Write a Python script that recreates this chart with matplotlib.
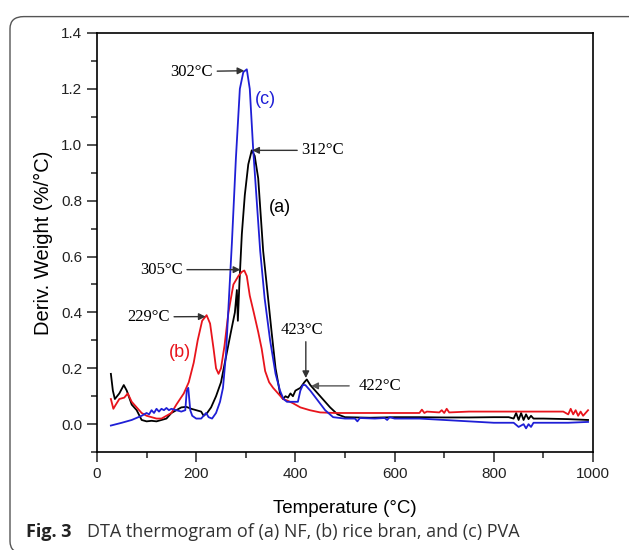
import matplotlib
matplotlib.use('Agg')
import matplotlib.pyplot as plt
from matplotlib.patches import FancyBboxPatch
from matplotlib.ticker import MultipleLocator

# (a) NF - black
t_nf = [28, 32, 36, 45, 54, 60, 70, 80, 90, 100, 110, 120, 130, 140, 150, 160, 170, 180,
        190, 200, 210, 215, 222, 230, 240, 250, 260, 270, 278, 282, 284, 287, 292, 298,
        305, 312, 318, 325, 335, 345, 352, 360, 369, 375, 380, 385, 390, 395, 400, 410,
        418, 423, 430, 440, 455, 470, 485, 500, 550, 600, 650, 700, 750, 800, 830, 840,
        845, 850, 855, 860, 865, 870, 875, 880, 900, 950, 990]
d_nf = [0.18, 0.12, 0.09, 0.11, 0.14, 0.12, 0.07, 0.05, 0.015, 0.01, 0.012, 0.01, 0.015,
        0.02, 0.04, 0.05, 0.06, 0.062, 0.055, 0.05, 0.045, 0.03, 0.04, 0.06, 0.1, 0.15,
        0.24, 0.33, 0.40, 0.48, 0.37, 0.50, 0.68, 0.82, 0.93, 0.98, 0.96, 0.88, 0.62,
        0.45, 0.33, 0.2, 0.11, 0.09, 0.1, 0.095, 0.11, 0.1, 0.12, 0.13, 0.15, 0.16, 0.14,
        0.12, 0.09, 0.06, 0.035, 0.025, 0.023, 0.025, 0.025, 0.024, 0.024, 0.025, 0.025,
        0.02, 0.04, 0.015, 0.04, 0.015, 0.035, 0.018, 0.03, 0.02, 0.02, 0.018, 0.015]

# (b) rice bran - red
t_rb = [28, 33, 38, 45, 55, 62, 70, 80, 90, 100, 110, 120, 130, 140, 150, 160, 175, 185,
        195, 203, 212, 221, 228, 235, 240, 245, 250, 257, 265, 275, 285, 292, 297, 302,
        308, 316, 325, 332, 339, 347, 355, 365, 375, 383, 395, 410, 429, 450, 480, 520,
        560, 600, 640, 650, 655, 660, 665, 690, 695, 700, 705, 710, 750, 800, 850, 900,
        940, 950, 955, 960, 965, 970, 975, 980, 985, 990]
d_rb = [0.09, 0.055, 0.07, 0.09, 0.095, 0.11, 0.08, 0.06, 0.04, 0.03, 0.025, 0.02, 0.02,
        0.03, 0.04, 0.07, 0.11, 0.15, 0.22, 0.3, 0.37, 0.39, 0.36, 0.27, 0.2, 0.18, 0.2,
        0.28, 0.4, 0.5, 0.53, 0.545, 0.55, 0.53, 0.46, 0.4, 0.33, 0.27, 0.19, 0.15, 0.13,
        0.11, 0.09, 0.085, 0.075, 0.06, 0.05, 0.042, 0.04, 0.04, 0.04, 0.04, 0.04, 0.04,
        0.052, 0.04, 0.045, 0.042, 0.05, 0.04, 0.055, 0.042, 0.045, 0.045, 0.045, 0.045,
        0.045, 0.035, 0.055, 0.035, 0.05, 0.03, 0.045, 0.03, 0.04, 0.05]

# (c) PVA - blue
t_pva = [28, 50, 70, 90, 100, 105, 110, 115, 120, 125, 130, 135, 140, 145, 150, 160, 170,
         178, 181, 184, 188, 192, 200, 210, 215, 220, 225, 232, 240, 248, 254, 260, 266,
         272, 280, 288, 295, 302, 308, 315, 322, 329, 338, 349, 360, 369, 376, 383, 395,
         405, 410, 415, 420, 430, 445, 460, 476, 500, 520, 525, 530, 560, 580, 585, 590,
         600, 650, 700, 750, 800, 840, 850, 860, 865, 870, 875, 880, 890, 950, 990]
d_pva = [-0.005, 0.005, 0.015, 0.03, 0.04, 0.035, 0.05, 0.04, 0.055, 0.045, 0.055, 0.05,
         0.058, 0.05, 0.055, 0.05, 0.045, 0.05, 0.12, 0.13, 0.05, 0.03, 0.02, 0.02, 0.03,
         0.04, 0.025, 0.02, 0.04, 0.08, 0.13, 0.25, 0.45, 0.65, 0.95, 1.2, 1.26, 1.27, 1.2,
         0.98, 0.8, 0.62, 0.45, 0.3, 0.18, 0.12, 0.09, 0.08, 0.08, 0.08, 0.12, 0.14, 0.14,
         0.12, 0.085, 0.05, 0.025, 0.02, 0.02, 0.01, 0.022, 0.02, 0.022, 0.015, 0.025, 0.02,
         0.02, 0.015, 0.01, 0.005, 0.005, -0.01, 0.0, -0.015, 0.0, -0.01, 0.005, 0.005,
         0.005, 0.008]

sans = ['Liberation Sans', 'DejaVu Sans']
serif = ['Liberation Serif', 'DejaVu Serif']

fig = plt.figure(figsize=(6.29, 5.5), dpi=100)
ax = fig.add_axes([0.1542, 0.178, 0.7886, 0.762])

ax.plot(t_nf, d_nf, color='black', lw=1.3)
ax.plot(t_rb, d_rb, color='#e8141c', lw=1.3)
ax.plot(t_pva, d_pva, color='#1f1fd6', lw=1.3)

ax.set_xlim(0, 1000)
ax.set_ylim(-0.1, 1.4)
ax.xaxis.set_major_locator(MultipleLocator(200))
ax.xaxis.set_minor_locator(MultipleLocator(100))
ax.yaxis.set_major_locator(MultipleLocator(0.2))
ax.yaxis.set_minor_locator(MultipleLocator(0.1))
ax.yaxis.set_major_formatter(plt.FuncFormatter(lambda v, p: f'{v:.1f}'))
ax.tick_params(which='both', direction='out', top=False, right=False, labelsize=11,
               width=1.1, color='#222222', labelcolor='#222222')
ax.tick_params(which='major', length=7)
ax.tick_params(which='minor', length=4)
for lab in ax.get_xticklabels() + ax.get_yticklabels():
    lab.set_family(sans)
for s in ax.spines.values():
    s.set_linewidth(1.2)

ax.set_xlabel('Temperature (°C)', family=sans, fontsize=13.5, labelpad=14)
ax.set_ylabel('Deriv. Weight (%/°C)', family=sans, fontsize=14.5, labelpad=6)

arr = dict(arrowstyle='-|>', color='#333333', lw=1.0, mutation_scale=10,
           shrinkA=1, shrinkB=0)
ax.annotate('302°C', xy=(297, 1.265), xytext=(234, 1.262), ha='right', va='center',
            family=serif, fontsize=12, arrowprops=arr)
ax.annotate('312°C', xy=(313, 0.98), xytext=(412, 0.98), ha='left', va='center',
            family=serif, fontsize=12, arrowprops=arr)
ax.annotate('305°C', xy=(289, 0.553), xytext=(173, 0.553), ha='right', va='center',
            family=serif, fontsize=12, arrowprops=arr)
ax.annotate('229°C', xy=(219, 0.385), xytext=(147, 0.384), ha='right', va='center',
            family=serif, fontsize=12, arrowprops=arr)
ax.text(413, 0.337, '423°C', ha='center', va='center', family=serif, fontsize=12)
ax.annotate('', xy=(421, 0.165), xytext=(421, 0.30), arrowprops=arr)
ax.annotate('422°C', xy=(432, 0.137), xytext=(528, 0.137), ha='left', va='center',
            family=serif, fontsize=12,
            arrowprops=dict(arrowstyle='-|>', color='#555555', lw=1.0,
                            mutation_scale=10, shrinkA=5, shrinkB=0))

ax.text(339, 1.163, '(c)', color='#1f1fd6', family=sans, fontsize=13, ha='center', va='center')
ax.text(369, 0.775, '(a)', color='black', family=sans, fontsize=13, ha='center', va='center')
ax.text(167, 0.258, '(b)', color='#e8141c', family=sans, fontsize=13, ha='center', va='center')

# rounded frame around figure and caption
frame = FancyBboxPatch((10 / 629, -0.006), 1.2, 0.988 - 10 / 550 + 0.006,
                       boxstyle='round,pad=0,rounding_size=0.022',
                       transform=fig.transFigure, fill=False, ec='#555555', lw=1.0)
fig.patches.append(frame)

fig.text(26 / 629, 1 - 532 / 550, 'Fig. 3', family=['Open Sans', 'DejaVu Sans'],
         fontweight='bold', fontsize=13, va='center', color='#222222')
fig.text(87 / 629, 1 - 532 / 550, 'DTA thermogram of (a) NF, (b) rice bran, and (c) PVA',
         family=['Open Sans', 'DejaVu Sans'], fontsize=13, va='center', color='#333333')

fig.savefig('out.png', dpi=100)
